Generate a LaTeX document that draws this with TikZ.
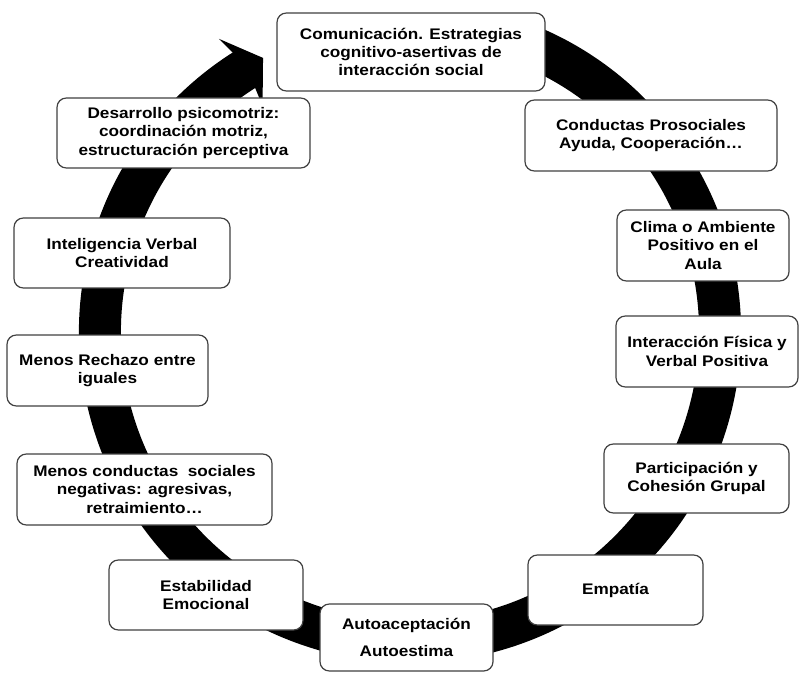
\documentclass[tikz,border=0pt]{standalone}
\usepackage{fontspec}
\usepackage{tikz}
\newfontfamily\diagfont{Liberation Sans}[FakeStretch=1.12]

\begin{document}
\begin{tikzpicture}
  [x=0.75pt,y=0.75pt,
   every node/.style={draw=black!75,line width=0.9pt,rounded corners=7pt,fill=white,
     align=center,inner sep=0pt,font=\diagfont\bfseries\fontsize{11.5}{13.8}\selectfont}]
  \useasboundingbox (0,0) rectangle (799,672);

  \begin{scope}[shift={(410,340)}]
    \draw[line width=31.5pt] (70:310) arc[start angle=70,end angle=-238.6,radius=232.5pt];
    \fill (123.1:350) -- (118.2:311) -- (123.1:270) -- (122.4:289) -- (122.4:331) -- cycle;
  \end{scope}

  \node[minimum width=201pt,minimum height=58.5pt] (com) at (411,620)
    {Comunicación. Estrategias\\cognitivo-asertivas de\\interacción social};
  \node[minimum width=189pt,minimum height=53.25pt] (prosoc) at (651,536.5)
    {Conductas Prosociales\\Ayuda, Cooperación…};
  \node[minimum width=129pt,minimum height=53.25pt] (clima) at (703,426.5)
    {Clima o Ambiente\\Positivo en el\\Aula};
  \node[minimum width=136.5pt,minimum height=53.25pt] (inter) at (707,320.5)
    {Interacción Física y\\Verbal Positiva};
  \node[minimum width=138.75pt,minimum height=51.75pt] (partic) at (696.5,193.5)
    {Participación y\\Cohesión Grupal};
  \node[minimum width=131.25pt,minimum height=52.5pt] (empat) at (615.5,82)
    {Empatía};
  \node[minimum width=129.75pt,minimum height=50.25pt] (autoe) at (406.5,34.5)
    {Autoaceptación\\[6.5pt]Autoestima};
  \node[minimum width=145.5pt,minimum height=52.5pt] (estab) at (206,77)
    {Estabilidad\\Emocional};
  \node[minimum width=191.25pt,minimum height=53.25pt] (negat) at (144.5,182.5)
    {Menos conductas~ sociales\\negativas: agresivas,\\retraimiento…};
  \node[minimum width=150.75pt,minimum height=53.25pt] (rech) at (107.5,301.5)
    {Menos Rechazo entre\\iguales};
  \node[minimum width=162pt,minimum height=52.5pt] (intel) at (122,419)
    {Inteligencia Verbal\\Creatividad};
  \node[minimum width=189.75pt,minimum height=52.5pt] (psico) at (183.5,539)
    {Desarrollo psicomotriz:\\coordinación motriz,\\estructuración perceptiva};
\end{tikzpicture}
\end{document}
